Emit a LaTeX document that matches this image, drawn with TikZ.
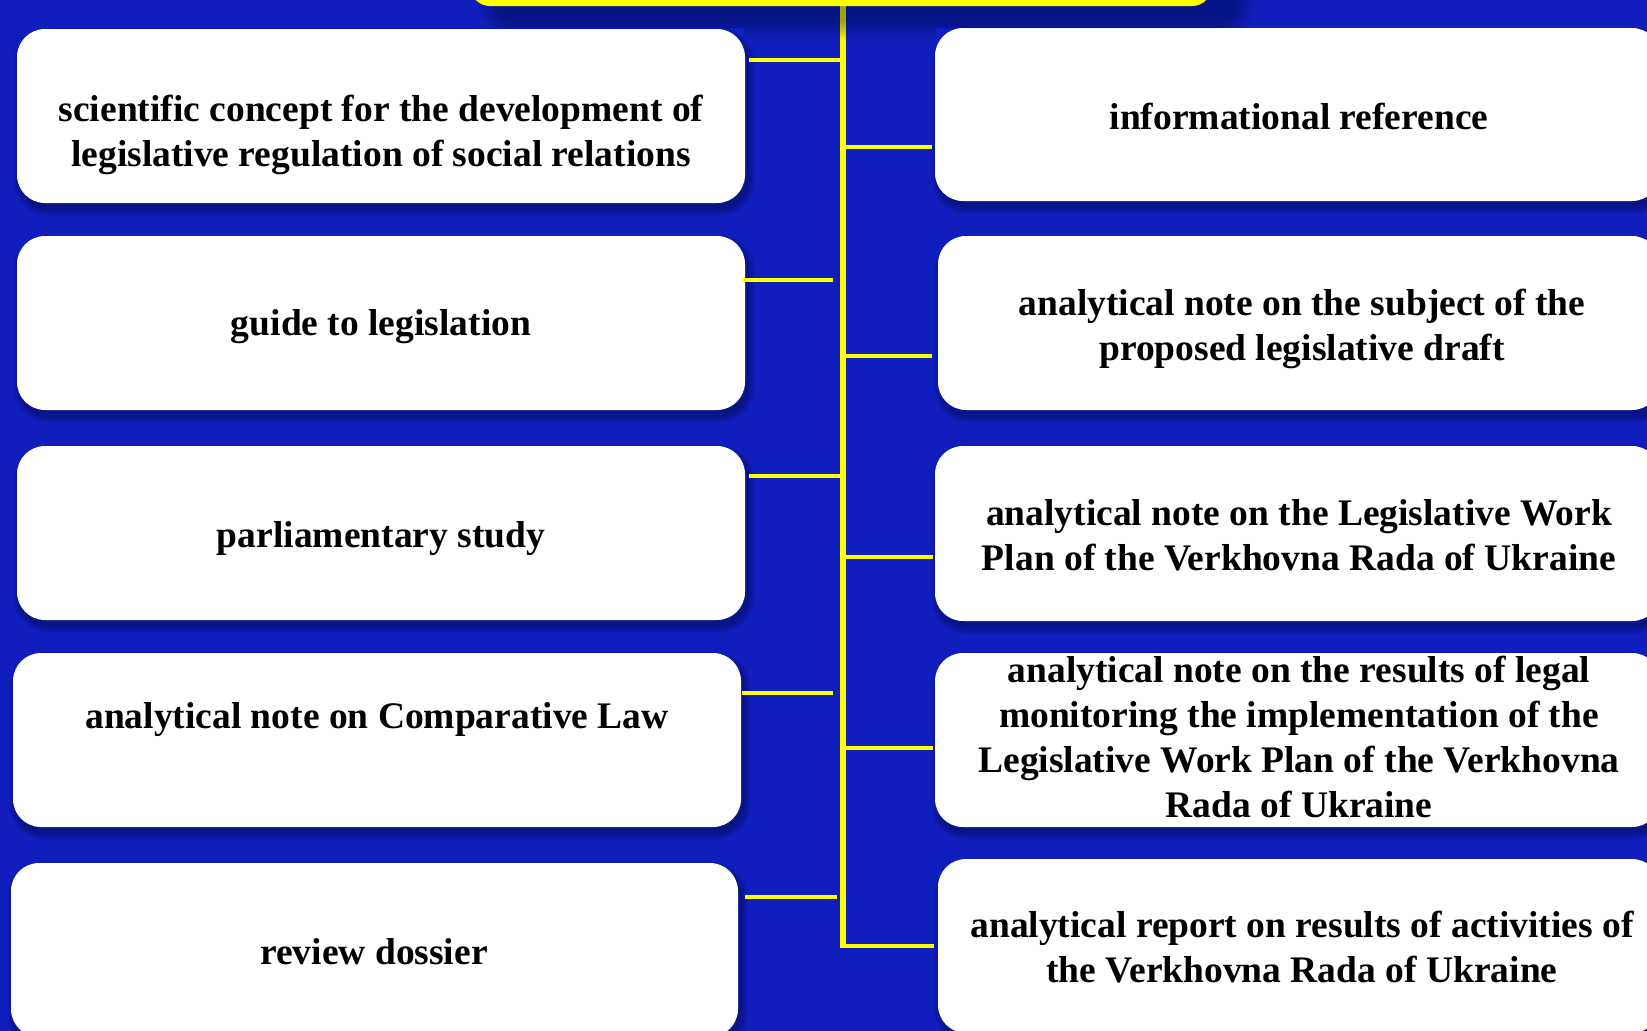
\documentclass[tikz,border=0pt]{standalone}
\usepackage{fontspec}
\setmainfont{Liberation Serif}
\usetikzlibrary{calc}
\definecolor{bgblue}{RGB}{16,30,190}
\definecolor{ylw}{RGB}{255,255,0}
\definecolor{shd}{RGB}{4,8,50}
\tikzset{
  card/.style={draw=none, fill=white, rounded corners=28pt, inner sep=0pt, outer sep=0pt, rectangle},
  topbox/.style={draw=none, fill=ylw, rounded corners=20pt, inner sep=0pt, outer sep=0pt, rectangle},
  lbl/.style={font=\bfseries\fontsize{37.5}{45}\selectfont, align=center, text=black, inner sep=0pt},
  link/.style={draw=ylw, line width=4pt},
  spine/.style={draw=ylw, line width=5.5pt},
}
\begin{document}
\begin{tikzpicture}[x=1pt,y=-1pt]
\useasboundingbox (0,0) rectangle (1647,1031);
\clip (0,0) rectangle (1647,1031);
\fill[bgblue] (0,0) rectangle (1647,1031);

% card shadows
\foreach \xa/\ya/\xb/\yb in {17/29/745/203, 17/236/745/410, 17/446/745/620, 13/653/741/827, 11/863/738/1037,
  935/28/1660/201, 938/236/1660/410, 935/446/1660/621, 935/653/1660/827, 938/859/1660/1033}{
  \foreach \k in {0,...,7}{
    \pgfmathsetmacro{\rr}{28+\k}
    \fill[shd, opacity=0.055, rounded corners=\rr pt] (\xa+3-\k,\ya+6-\k) rectangle (\xb+3+\k,\yb+6+\k);
  }
}

% cards
\foreach \n/\xa/\ya/\xb/\yb in {L1/17/29/745/203, L2/17/236/745/410, L3/17/446/745/620, L4/13/653/741/827, L5/11/863/738/1037,
  R1/935/28/1660/201, R2/938/236/1660/410, R3/935/446/1660/621, R4/935/653/1660/827, R5/938/859/1660/1033}{
  \node[card, minimum width={\xb-\xa}, minimum height={\yb-\ya}] (\n) at ({(\xa+\xb)/2},{(\ya+\yb)/2}) {};
}

% spine and connectors
\coordinate (sTop) at (843,-2);
\coordinate (sBot) at (843,948);
\draw[spine] (sTop) -- (sBot);
\foreach \m/\yy/\xa/\xb in {a/60/749/842, b/280/742/833, c/476/749/842, d/693/742/833, e/897/745/837,
  f/147/844/932, g/356/844/932, h/557/844/933, i/748/844/933, j/946/840/934}{
  \coordinate (c\m1) at (\xa,\yy);
  \coordinate (c\m2) at (\xb,\yy);
  \draw[link] (c\m1) -- (c\m2);
}

% top box shadow (only visible between cards)
\begin{scope}
  \clip (0,-10) rectangle (1647,28) (745,-10) rectangle (935,120);
  \foreach \k in {0,...,9}{
    \pgfmathsetmacro{\rr}{20+2*\k}
    \fill[shd, opacity=0.045, rounded corners=\rr pt] (495-2*\k,-80-2*\k) rectangle (1237+2*\k,22+2*\k);
  }
\end{scope}
\node[topbox, minimum width=742pt, minimum height=86pt] (top) at (841,-37) {};

% labels
\node[lbl] (tL1) at (381,135.3) {scientific concept for the development of\\legislative regulation of social relations};
\node[lbl] (tL2) at (381,327) {guide to legislation};
\node[lbl] (tL3) at (381,538.2) {parliamentary study};
\node[lbl] (tL4) at (377,719.9) {analytical note on Comparative Law};
\node[lbl] (tL5) at (374,951.7) {review dossier};
\node[lbl] (tR1) at (1299,116.6) {informational reference};
\node[lbl] (tR2) at (1302,328.6) {analytical note on the subject of the\\proposed legislative draft};
\node[lbl] (tR3) at (1299,535.7) {analytical note on the Legislative Work\\Plan of the Verkhovna Rada of Ukraine};
\node[lbl] (tR4) at (1299,737.4) {analytical note on the results of legal\\monitoring the implementation of the\\Legislative Work Plan of the Verkhovna\\Rada of Ukraine};
\node[lbl] (tR5) at (1302,947.5) {analytical report on results of activities of\\the Verkhovna Rada of Ukraine};
\end{tikzpicture}
\end{document}
